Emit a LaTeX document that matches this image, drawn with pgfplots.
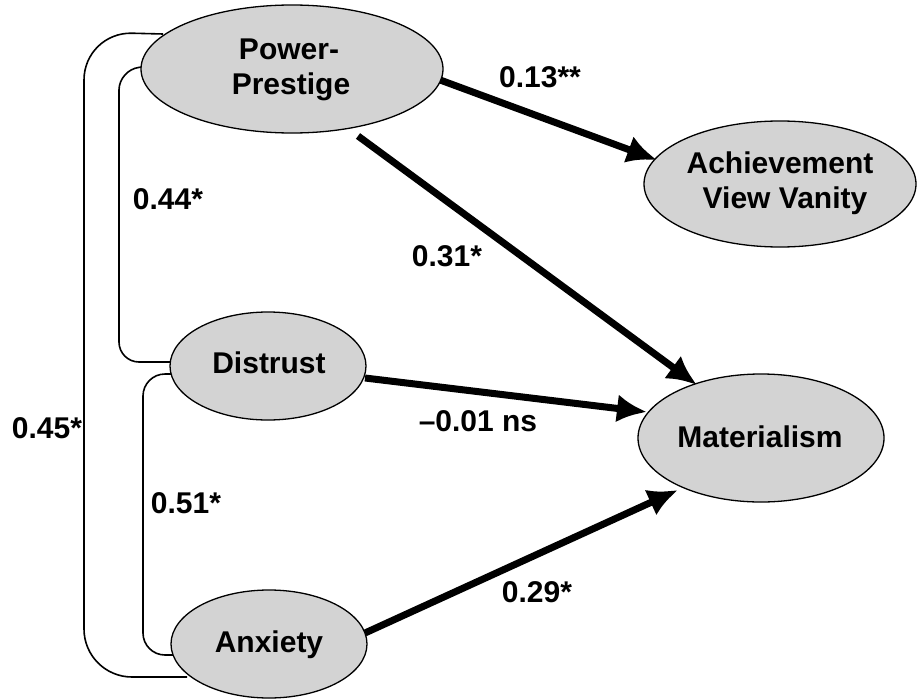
\documentclass[border=0pt]{standalone}
\usepackage{fontspec}
\setmainfont{Liberation Sans}
\usepackage{pgfplots}
\pgfplotsset{compat=1.18}
\usetikzlibrary{arrows.meta}
\definecolor{ellfill}{RGB}{211,211,211}
\tikzset{lab/.style={font=\fontsize{30}{35}\selectfont\bfseries, anchor=base, inner sep=0pt}}
\begin{document}
\begin{tikzpicture}
\begin{axis}[
  width=918pt, height=698pt, scale only axis,
  xmin=0, xmax=918, ymin=0, ymax=698, y dir=reverse,
  hide axis, clip=false,
]
% correlation connectors
\addplot[black, line width=1.6pt, rounded corners=48pt] coordinates {(163,34) (84,32) (84,677) (187,677)};
\addplot[black, line width=1.6pt, rounded corners=20pt] coordinates {(142,67) (119,70) (119,362) (172,362)};
\addplot[black, line width=1.6pt, rounded corners=22pt] coordinates {(172,374) (143,374) (143,655) (174,655)};
% paths
\addplot[black, line width=7pt, -{Latex[length=30pt,width=28pt]}] coordinates {(432,77) (657,160)};
\addplot[black, line width=7pt, -{Latex[length=30pt,width=28pt]}] coordinates {(358,136) (697,385)};
\addplot[black, line width=7pt, -{Latex[length=30pt,width=28pt]}] coordinates {(365,378) (647,412)};
\addplot[black, line width=7pt, -{Latex[length=30pt,width=28pt]}] coordinates {(365,633) (678,490)};
% latent variables
\draw[black, line width=1.3pt, fill=ellfill] (axis cs:292,69) ellipse [x radius=151, y radius=64];
\draw[black, line width=1.3pt, fill=ellfill] (axis cs:780,184) ellipse [x radius=136, y radius=63];
\draw[black, line width=1.3pt, fill=ellfill] (axis cs:761,438) ellipse [x radius=123, y radius=64];
\draw[black, line width=1.3pt, fill=ellfill] (axis cs:268,366) ellipse [x radius=98, y radius=54];
\draw[black, line width=1.3pt, fill=ellfill] (axis cs:269,644) ellipse [x radius=98, y radius=54];
% names
\node[lab] at (axis cs:289,59) {Power-};
\node[lab] at (axis cs:291,94) {Prestige};
\node[lab] at (axis cs:780,173) {Achievement};
\node[lab] at (axis cs:785,208) {View Vanity};
\node[lab] at (axis cs:760,447) {Materialism};
\node[lab] at (axis cs:269,373) {Distrust};
\node[lab] at (axis cs:269,652) {Anxiety};
% coefficients
\node[lab] at (axis cs:540,87) {0.13**};
\node[lab] at (axis cs:168,209) {0.44*};
\node[lab] at (axis cs:447,266) {0.31*};
\node[lab] at (axis cs:478,431) {\textendash0.01 ns};
\node[lab] at (axis cs:47,438) {0.45*};
\node[lab] at (axis cs:186,513) {0.51*};
\node[lab] at (axis cs:537,602) {0.29*};
\end{axis}
\path (current axis.south west) rectangle (current axis.north east);
\end{tikzpicture}
\end{document}
